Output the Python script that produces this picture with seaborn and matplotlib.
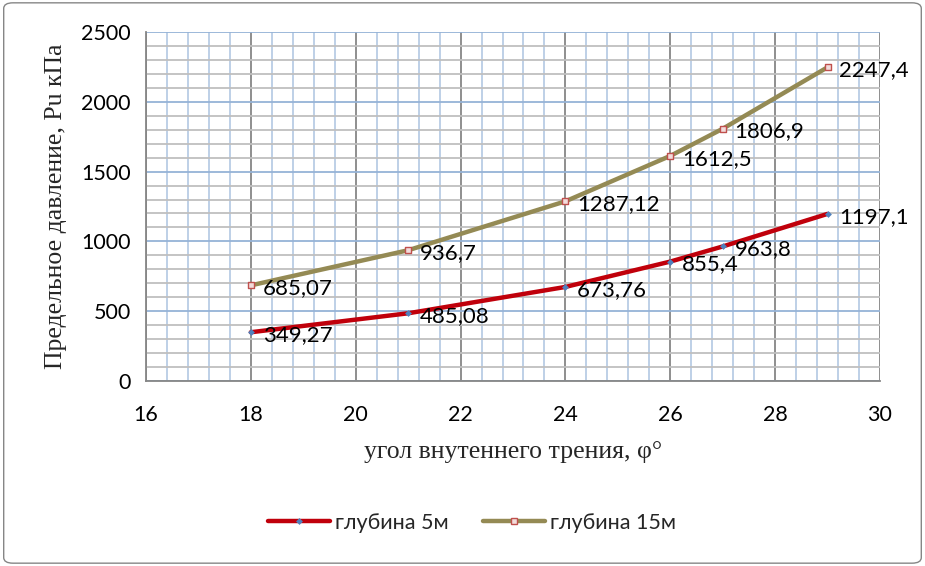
import matplotlib
matplotlib.use("Agg")
import matplotlib.pyplot as plt
import seaborn as sns
import pandas as pd
from matplotlib.patches import FancyBboxPatch
from matplotlib.ticker import MultipleLocator
from matplotlib.lines import Line2D

# ---- data ----
angles = [18, 21, 24, 26, 27, 29]
p_5m = [349.27, 485.08, 673.76, 855.4, 963.8, 1197.1]
p_15m = [685.07, 936.7, 1287.12, 1612.5, 1806.9, 2247.4]
labels_5m = ["349,27", "485,08", "673,76", "855,4", "963,8", "1197,1"]
labels_15m = ["685,07", "936,7", "1287,12", "1612,5", "1806,9", "2247,4"]
series_names = ["глубина 5м", "глубина 15м"]
x_label = "угол внутеннего трения, φ°"
y_label = "Предельное давление, Pu кПа"

df = pd.DataFrame({
    "angle": angles * 2,
    "p": p_5m + p_15m,
    "series": [series_names[0]] * len(angles) + [series_names[1]] * len(angles),
})

sns.set_theme(style="white")
plt.rcParams['font.family'] = ['Lato', 'DejaVu Sans']

fig = plt.figure(figsize=(9.25, 5.66), dpi=100)
ax = fig.add_axes([146/925, 1-381/566, (880-146)/925, (381-32)/566])

line_colors = ["#C0000B", "#948A54"]
sns.lineplot(data=df, x="angle", y="p", hue="series", palette=line_colors,
             linewidth=3.2, ax=ax, legend=False, zorder=4)

# markers
ax.scatter(angles, p_5m, marker="D", s=12, color="#4F81BD", zorder=5, linewidths=0)
ax.scatter(angles, p_15m, marker="s", s=22, facecolor="#F2DCDB", edgecolor="#C0504D",
           linewidths=1.0, zorder=5)

label_fs = 16
for x, y, t in zip(angles, p_5m, labels_5m):
    ax.annotate(t, (x, y), xytext=(8.5, -2), textcoords="offset points",
                va="center", ha="left", fontsize=label_fs, color="black", zorder=6)
for x, y, t in zip(angles, p_15m, labels_15m):
    ax.annotate(t, (x, y), xytext=(8.5, -2), textcoords="offset points",
                va="center", ha="left", fontsize=label_fs, color="black", zorder=6)

ax.set_xlim(16, 30)
ax.set_ylim(0, 2500)
ax.xaxis.set_major_locator(MultipleLocator(2))
ax.xaxis.set_minor_locator(MultipleLocator(0.4))
ax.yaxis.set_major_locator(MultipleLocator(500))
ax.yaxis.set_minor_locator(MultipleLocator(100))

ax.grid(False)
ax.grid(which="minor", axis="x", color="#B9CDE5", linewidth=1.3, zorder=0)
ax.grid(which="minor", axis="y", color="#BFBFBF", linewidth=1.3, zorder=0)
ax.grid(which="major", axis="x", color="#868686", linewidth=1.3, zorder=1)
ax.grid(which="major", axis="y", color="#95B3D7", linewidth=1.3, zorder=1)
ax.set_axisbelow(True)

for s in ["top", "right"]:
    ax.spines[s].set_visible(False)
for s in ["left", "bottom"]:
    ax.spines[s].set_color("#868686")
    ax.spines[s].set_linewidth(1.3)

ax.tick_params(axis="both", which="major", direction="out", length=5, width=1.3,
               color="#868686", labelsize=15.5, labelcolor="black", pad=6)
ax.tick_params(axis="x", which="major", pad=12)
ax.tick_params(which="minor", length=0)

ax.set_xlabel(x_label, family="Liberation Serif", fontsize=18.5, labelpad=12)
ax.set_ylabel(y_label, family="Liberation Serif", fontsize=18.5, labelpad=10)

handles = [
    Line2D([0], [0], color=line_colors[0], linewidth=3.2, marker="D", markersize=3.5,
           markerfacecolor="#4F81BD", markeredgewidth=0),
    Line2D([0], [0], color=line_colors[1], linewidth=3.2, marker="s", markersize=4.5,
           markerfacecolor="#F2DCDB", markeredgecolor="#C0504D", markeredgewidth=1.0),
]
fig.legend(handles, series_names, loc="center", bbox_to_anchor=(0.51, 1-523/566),
           ncol=2, frameon=False, fontsize=15.5, handlelength=2.9, handletextpad=0.2,
           columnspacing=1.6)

border = FancyBboxPatch((0.004, 0.005), 0.992, 0.99, boxstyle="round,pad=0,rounding_size=0.01",
                        transform=fig.transFigure, facecolor="none", edgecolor="#868686",
                        linewidth=1.0)
fig.patches.append(border)

fig.savefig("out.png", dpi=100)
